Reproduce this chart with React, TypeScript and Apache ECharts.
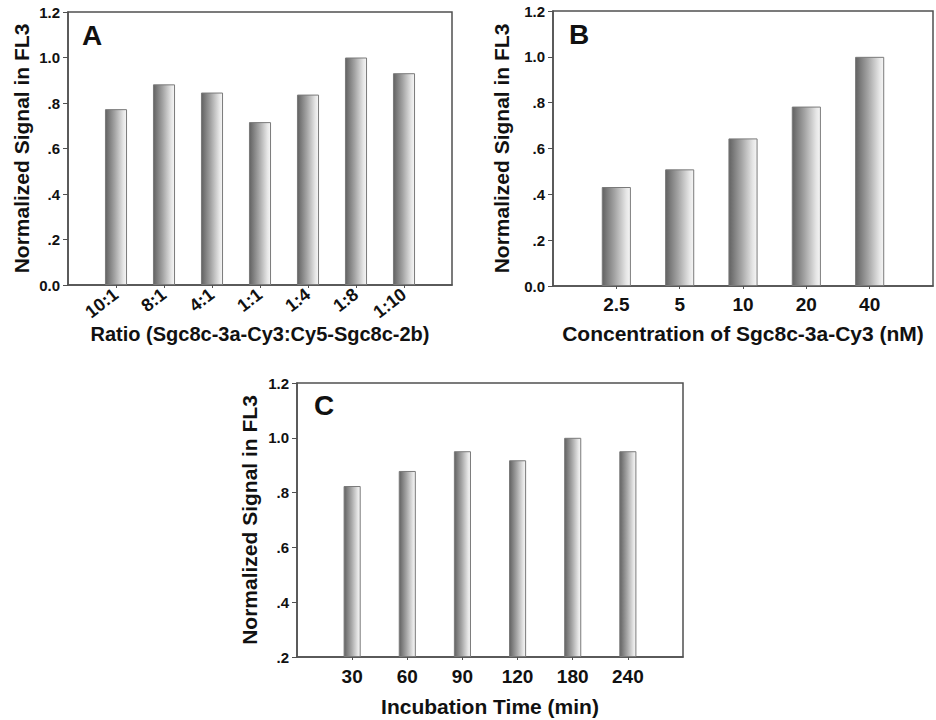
import React, { useEffect, useRef } from "react";
import * as echarts from "echarts";

const ratioCategories = ["10:1", "8:1", "4:1", "1:1", "1:4", "1:8", "1:10"];
const ratioValues = [0.773, 0.882, 0.846, 0.716, 0.837, 1.0, 0.931];

const concCategories = ["2.5", "5", "10", "20", "40"];
const concValues = [0.432, 0.509, 0.644, 0.783, 1.0];

const timeCategories = ["30", "60", "90", "120", "180", "240"];
const timeValues = [0.824, 0.879, 0.951, 0.918, 1.0, 0.951];

const yTicksAB = ["0.0", ".2", ".4", ".6", ".8", "1.0", "1.2"];
const yTicksC = [".2", ".4", ".6", ".8", "1.0", "1.2"];

const yName = "Normalized Signal in FL3";
const xNameA = "Ratio (Sgc8c-3a-Cy3:Cy5-Sgc8c-2b)";
const xNameB = "Concentration of Sgc8c-3a-Cy3 (nM)";
const xNameC = "Incubation Time (min)";

const FONT = "Liberation Sans, Arial, sans-serif";
const TXT = "#111";
const AX = "#505050";

const barGradient = new echarts.graphic.LinearGradient(0, 0, 1, 0, [
  { offset: 0, color: "#626262" },
  { offset: 0.45, color: "#a5a5a5" },
  { offset: 0.85, color: "#e6e6e6" },
  { offset: 1, color: "#f6f6f6" },
]);

const pad = (arr: string[]) => ["", ...arr, ""];
const padV = (arr: number[]) => [null, ...arr, null];

function xAxisFor(gridIndex: number, cats: string[], name: string, labelSize: number, rotate: number, margin: number, nameGap: number, nameSize: number) {
  return {
    type: "category",
    gridIndex,
    data: pad(cats),
    boundaryGap: false,
    name,
    nameLocation: "middle",
    nameGap,
    nameTextStyle: { fontFamily: FONT, fontWeight: "bold", fontSize: nameSize, color: TXT },
    axisLine: { lineStyle: { color: AX, width: 1.5 } },
    axisTick: {
      show: true,
      length: 3,
      interval: (_i: number, v: string) => v !== "",
      lineStyle: { color: AX },
    },
    axisLabel: {
      interval: 0,
      rotate,
      margin,
      fontFamily: FONT,
      fontWeight: "bold",
      fontSize: labelSize,
      color: TXT,
    },
    splitLine: { show: false },
  };
}

function yAxisFor(gridIndex: number, min: number, ticks: string[], offsetIdx: number, nameGap: number) {
  return {
    type: "value",
    gridIndex,
    min,
    max: 1.2,
    interval: 0.2,
    startValue: min,
    name: yName,
    nameLocation: "middle",
    nameGap,
    nameTextStyle: { fontFamily: FONT, fontWeight: "bold", fontSize: 21, color: TXT },
    axisLine: { show: true, lineStyle: { color: AX, width: 1.5 } },
    axisTick: { show: true, length: 5, lineStyle: { color: AX } },
    axisLabel: {
      margin: 8,
      fontFamily: FONT,
      fontWeight: "bold",
      fontSize: 15,
      color: TXT,
      formatter: (v: number) => ticks[Math.round(v / 0.2) - offsetIdx],
    },
    splitLine: { show: false },
  };
}

function barSeries(idx: number, values: number[], barWidth: string) {
  return {
    type: "bar",
    xAxisIndex: idx,
    yAxisIndex: idx,
    data: padV(values),
    barWidth,
    itemStyle: { color: barGradient, borderColor: "#7a7a7a", borderWidth: 1 },
  };
}

export default function App() {
  const ref = useRef<HTMLDivElement>(null);
  useEffect(() => {
    if (!ref.current) return;
    const chart = echarts.init(ref.current, undefined, { renderer: "svg" });
    const gridBase = { show: true, borderColor: AX, borderWidth: 1.5, backgroundColor: "transparent" };
    chart.setOption({
      animation: false,
      backgroundColor: "#fff",
      grid: [
        { ...gridBase, left: 68, top: 12, width: 384, height: 273 },
        { ...gridBase, left: 553, top: 11, width: 382, height: 275 },
        { ...gridBase, left: 297, top: 383, width: 386, height: 274 },
      ],
      xAxis: [
        xAxisFor(0, ratioCategories, xNameA, 18, 38, 7, 39, 20),
        xAxisFor(1, concCategories, xNameB, 19, 0, 9, 37, 21),
        xAxisFor(2, timeCategories, xNameC, 19, 0, 10, 39, 21),
      ],
      yAxis: [
        yAxisFor(0, 0, yTicksAB, 0, 36),
        yAxisFor(1, 0, yTicksAB, 0, 41),
        yAxisFor(2, 0.2, yTicksC, 1, 37),
      ],
      series: [
        barSeries(0, ratioValues, "46%"),
        barSeries(1, concValues, "46%"),
        barSeries(2, timeValues, "31%"),
      ],
      graphic: [
        { type: "text", x: 82, y: 35, style: { text: "A", font: `bold 28px ${FONT}`, fill: TXT, verticalAlign: "middle" } },
        { type: "text", x: 569, y: 34, style: { text: "B", font: `bold 28px ${FONT}`, fill: TXT, verticalAlign: "middle" } },
        { type: "text", x: 314, y: 405, style: { text: "C", font: `bold 28px ${FONT}`, fill: TXT, verticalAlign: "middle" } },
      ],
    });
    return () => chart.dispose();
  }, []);
  return (
    <div
      ref={ref}
      style={{ position: "absolute", left: 0, top: 0, width: 936, height: 720 }}
    />
  );
}
